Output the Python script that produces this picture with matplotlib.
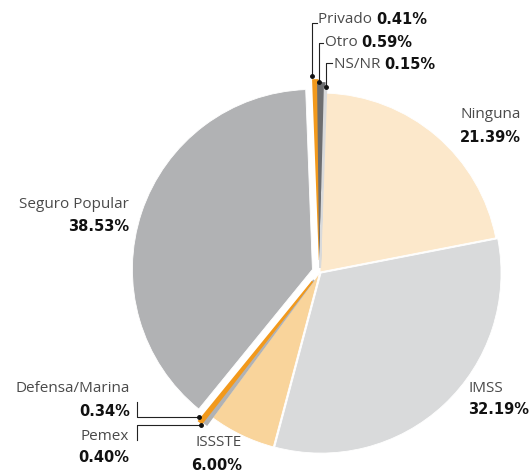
import matplotlib.pyplot as plt

plt.rcParams['font.family'] = ['Open Sans', 'DejaVu Sans']

labels = ['Ninguna', 'IMSS', 'ISSSTE', 'Pemex', 'Defensa/Marina',
          'Seguro Popular', 'Privado', 'Otro', 'NS/NR']
shares = [21.39, 32.19, 6.00, 0.40, 0.34, 38.53, 0.41, 0.59, 0.15]
colors = ['#fce8cb', '#d9dadb', '#f9d49b', '#b1b2b4', '#f2991c',
          '#b1b2b4', '#f2991c', '#6d6e70', '#d9dadb']

W, H = 529, 473


def py(y):
    # pixel row (from top) -> data y
    return H - y


fig = plt.figure(figsize=(W / 100, H / 100), dpi=100)
ax = fig.add_axes([0, 0, 1, 1])

# explode is in data units (pixels here)
explode = [0, 1.5, 1, 10, 12, 8, 12, 9, 4]
wedges, _ = ax.pie(shares, colors=colors, explode=explode, startangle=88,
                   counterclock=False, radius=180, center=(320, py(272)),
                   wedgeprops=dict(linewidth=0))
wedges[0].set_radius(179)
for w, v in zip(wedges, shares):
    if v < 1:
        w.set_edgecolor(w.get_facecolor())
        w.set_linewidth(1.3)
    else:
        w.set_edgecolor('white')
        w.set_linewidth(0.6)

ax.set_xlim(0, W)
ax.set_ylim(0, H)
ax.axis('off')

name_kw = dict(fontsize=11, color='#4a4a4a')
pct_kw = dict(fontsize=10.5, color='#111111', fontweight='bold',
              family='DejaVu Sans')

# stacked labels: (x, name y, pct y, alignment)
stacked = {
    'Ninguna': (521, 115, 138, 'right'),
    'IMSS': (468, 389, 410, 'left'),
    'ISSSTE': (242, 443, 465, 'right'),
    'Pemex': (129, 436, 458, 'right'),
    'Defensa/Marina': (130, 388, 411, 'right'),
    'Seguro Popular': (129, 205, 227, 'right'),
}
for lab, v in zip(labels, shares):
    if lab in stacked:
        x, y1, y2, ha = stacked[lab]
        ax.text(x, py(y1), lab, ha=ha, va='center', **name_kw)
        ax.text(x, py(y2), f'{v:.2f}%', ha=ha, va='center', **pct_kw)

# inline labels at the top
inline = {'Privado': (318, 20), 'Otro': (325, 43), 'NS/NR': (334, 65)}
for lab, v in zip(labels, shares):
    if lab in inline:
        x, y = inline[lab]
        t = ax.text(x, py(y), lab + ' ', ha='left', va='center', **name_kw)
        ax.annotate(f'{v:.2f}%', xycoords=t, xy=(1, 0.5), va='center',
                    ha='left', **pct_kw)

line_kw = dict(color='#222222', linewidth=0.8)
dot_kw = dict(marker='o', markersize=2.5, color='#111111', linestyle='none')

# leaders at the top
for (x0, x1, y0, y1) in [(312, 317, 23, 76), (319, 323, 43, 82), (326, 332, 63, 87)]:
    ax.plot([x1, x0, x0], [py(y0), py(y0), py(y1)], **line_kw)
    ax.plot([x0], [py(y1)], **dot_kw)

# leaders bottom left
ax.plot([137, 137, 199], [py(402), py(417), py(417)], **line_kw)
ax.plot([199], [py(417)], **dot_kw)
ax.plot([137, 137, 201], [py(440), py(425), py(425)], **line_kw)
ax.plot([201], [py(425)], **dot_kw)

fig.savefig('out.png', dpi=100)
